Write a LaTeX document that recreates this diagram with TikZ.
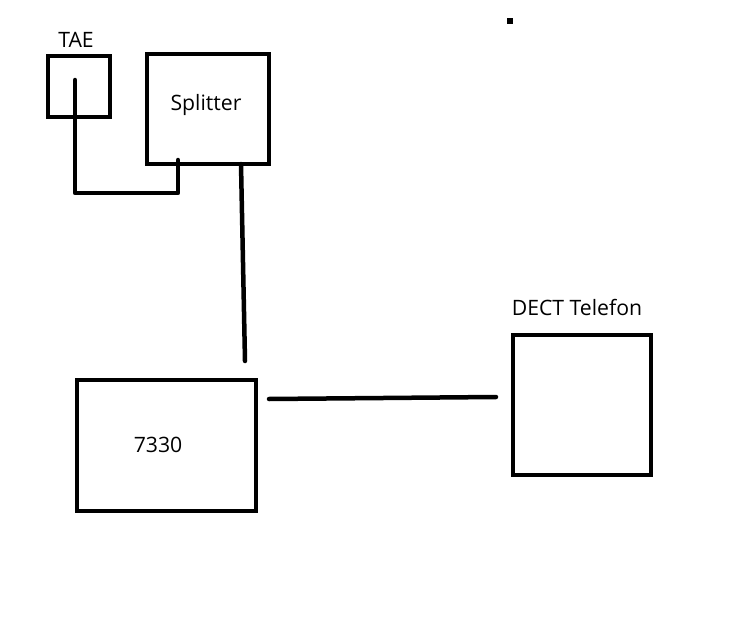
\documentclass[tikz,border=0pt]{standalone}
\usepackage{fontspec}
\setmainfont{Open Sans}
\begin{document}
\begin{tikzpicture}[x=1pt,y=-1pt,
  box/.style={draw=black,line width=4.5pt,rectangle,inner sep=0pt,fill=white},
  wire/.style={draw=black,line width=4.5pt,line cap=round,line join=round},
  lbl/.style={inner sep=0pt,font=\fontsize{21.2}{25}\selectfont}]
\useasboundingbox[fill=white] (0,0) rectangle (753,629);
% boxes
\node[box,minimum width=62pt,minimum height=61pt] (tae) at (79,86.5) {};
\node[box,minimum width=122pt,minimum height=110pt] (split) at (208,109) {};
\node[box,minimum width=179pt,minimum height=131pt] (fritz) at (166.5,445.5) {};
\node[box,minimum width=138pt,minimum height=140pt] (dect) at (582,405) {};
% labels
\node[lbl] (taelbl) at (76,40) {TAE};
\node[lbl] (splitlbl) at (206,105) {Splitter};
\node[lbl] (fritzlbl) at (158,445) {7330};
\node[lbl] (dectlbl) at (577,307) {DECT Telefon};
% wire coordinates
\coordinate (w1a) at (75,80);
\coordinate (w1b) at (75,193);
\coordinate (w1c) at (178,193);
\coordinate (w1d) at (178,160);
\coordinate (w2a) at (241,164);
\coordinate (w2b) at (245,361);
\coordinate (w3a) at (269,399);
\coordinate (w3m) at (383,398);
\coordinate (w3b) at (496,397);
% wires
\draw[wire] (w1a) -- (w1b) -- (w1c) -- (w1d);
\draw[wire] (w2a) -- (w2b);
\draw[wire] (w3a) -- (w3m) -- (w3b);
% stray dot
\node[fill=black,minimum size=6pt,inner sep=0pt] (dot) at (510,21) {};
\end{tikzpicture}
\end{document}
